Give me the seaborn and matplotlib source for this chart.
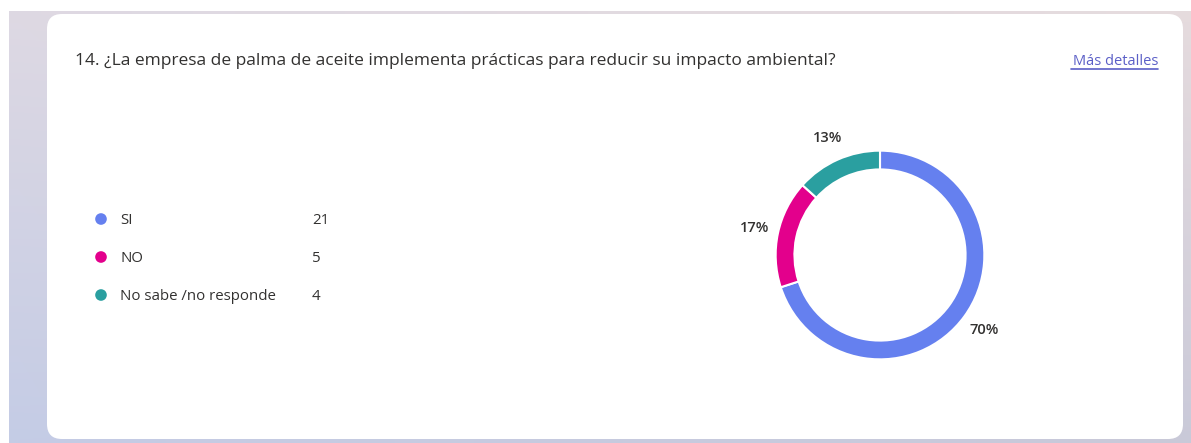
import numpy as np
import matplotlib
matplotlib.use("Agg")
import matplotlib.pyplot as plt
from matplotlib.patches import FancyBboxPatch
import seaborn as sns

categories = ["SI", "NO", "No sabe /no responde"]
counts = [21, 5, 4]
colors = ["#6580EF", "#E3008C", "#2A9FA0"]
title = "14. ¿La empresa de palma de aceite implementa prácticas para reducir su impacto ambiental?"
link_text = "Más detalles"

sns.set_theme(style="white")
plt.rcParams["font.family"] = ["Open Sans", "DejaVu Sans"]

W, H = 1191, 443
fig = plt.figure(figsize=(W / 100, H / 100), dpi=100)

# background axes in pixel coordinates
bg = fig.add_axes([0, 0, 1, 1])
bg.set_xlim(0, W)
bg.set_ylim(H, 0)
bg.axis("off")

# gradient backdrop
ny, nx = 64, 64
top_left = np.array([0.87, 0.85, 0.89])
bot_left = np.array([0.77, 0.80, 0.90])
top_right = np.array([0.90, 0.86, 0.87])
bot_right = np.array([0.79, 0.79, 0.85])
yy = np.linspace(0, 1, ny)[:, None, None]
xx = np.linspace(0, 1, nx)[None, :, None]
grad = (top_left * (1 - yy) * (1 - xx) + bot_left * yy * (1 - xx)
        + top_right * (1 - yy) * xx + bot_right * yy * xx)
bg.imshow(grad, extent=(9, W, H, 11), aspect="auto", zorder=0, interpolation="bilinear")
bg.set_xlim(0, W)
bg.set_ylim(H, 0)

card = FancyBboxPatch((47 + 15, 14 + 15), 1183 - 47 - 30, 439 - 14 - 30,
                      boxstyle="round,pad=15", facecolor="white", edgecolor="none", zorder=1)
bg.add_patch(card)

bg.text(75, 61, title, fontsize=12.5, color="#323130", va="center", ha="left", zorder=3)
bg.text(1158, 61, link_text, fontsize=10.5, color="#5B5FC7", va="center", ha="right", zorder=3)
bg.plot([1071, 1158], [69, 69], color="#5B5FC7", lw=1.2, zorder=3)

# legend text
for i, (c, n) in enumerate(zip(categories, counts)):
    y = 220 + i * 38
    bg.text(120, y, c, fontsize=10.8, color="#323130", va="center", ha="left", zorder=3)
    bg.text(312, y, str(n), fontsize=10.8, color="#323130", va="center", ha="left", zorder=3)

# legend dots via seaborn
lg = fig.add_axes([0, 0, 1, 1], facecolor="none")
lg.set_xlim(0, W)
lg.set_ylim(H, 0)
lg.axis("off")
sns.scatterplot(x=[101] * len(categories), y=[219 + 38 * i for i in range(len(categories))],
                hue=categories, palette=colors, s=70, edgecolor="none", legend=False, ax=lg, zorder=4)

# donut
cx, cy, size = 880, 255, 240
pax = fig.add_axes([(cx - size / 2) / W, 1 - (cy + size / 2) / H, size / W, size / H], facecolor="none")
wedges, texts, autotexts = pax.pie(counts, colors=colors, startangle=90, counterclock=False,
                                   autopct="%.0f%%", pctdistance=1.23,
                                   wedgeprops=dict(width=0.18, edgecolor="white", linewidth=1.5),
                                   textprops=dict(fontsize=10.5, color="#323130", fontweight="semibold"))
pax.set_xlim(-1.15, 1.15)
pax.set_ylim(-1.15, 1.15)
pax.set_aspect("equal")
pax.axis("off")

fig.savefig("out.png", dpi=100)
